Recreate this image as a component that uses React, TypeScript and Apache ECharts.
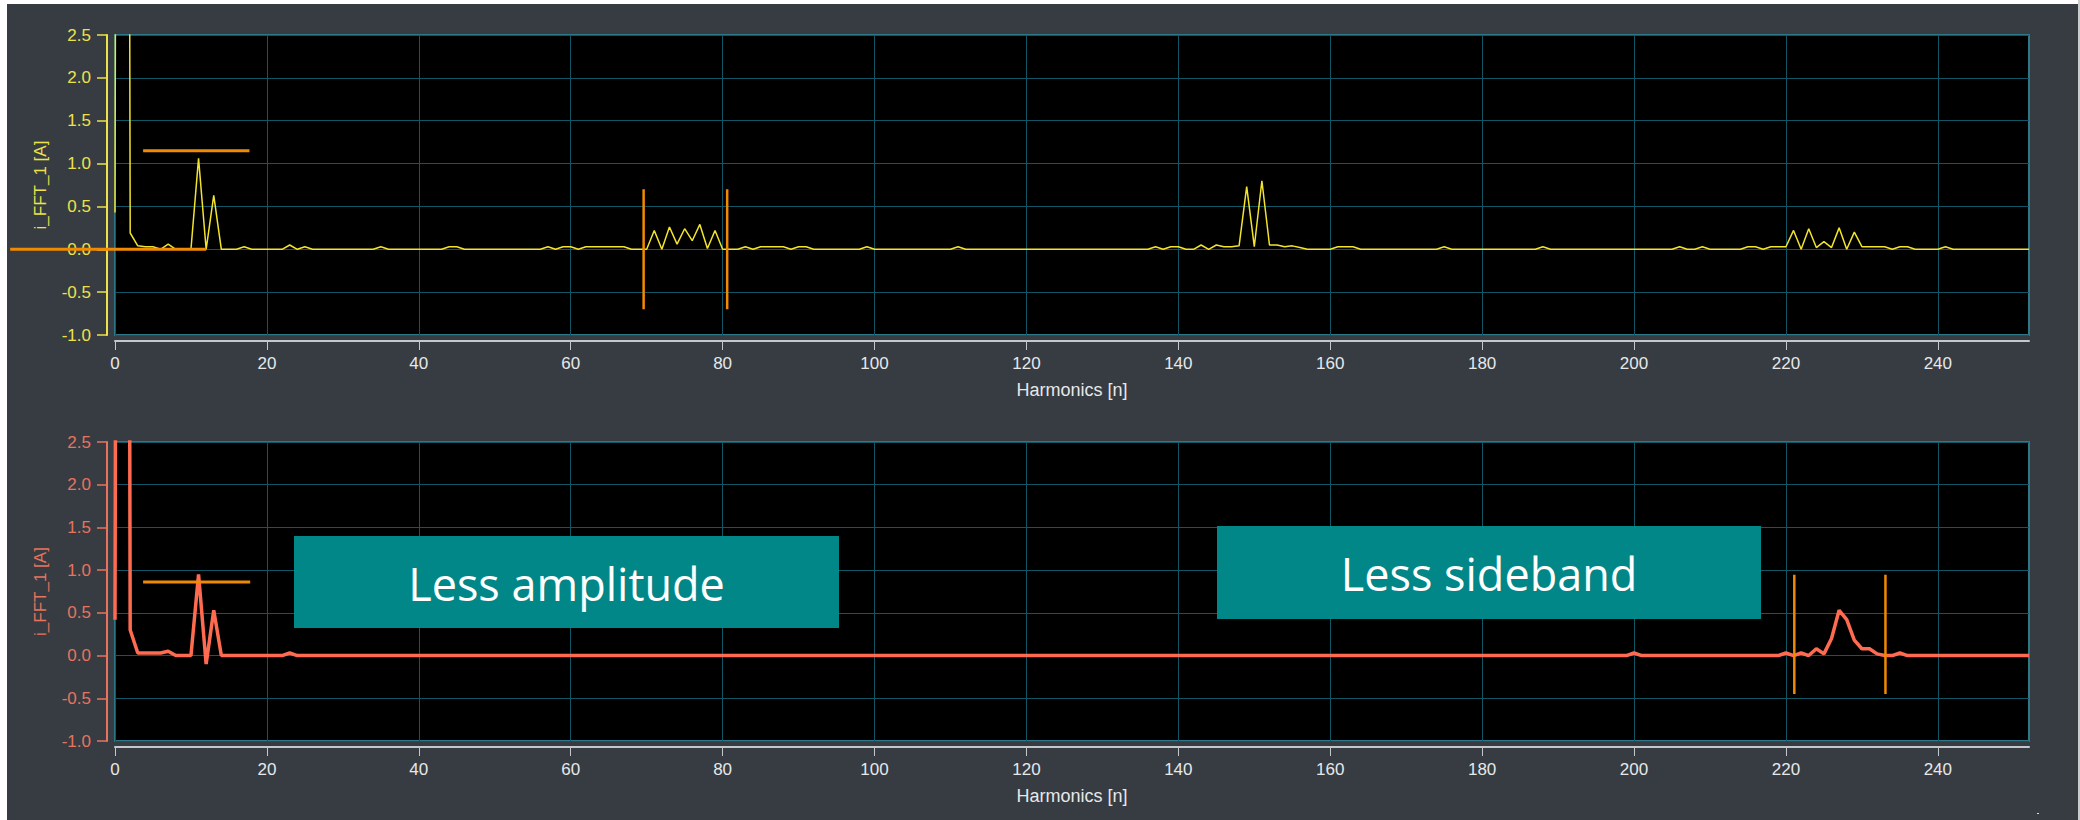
import React, { useEffect, useRef } from "react";
import * as echarts from "echarts";

// Harmonic order n = index (0 .. 252)
const topValues = [
  0.43, 40, 0.19, 0.04, 0.03, 0.03, 0, 0.06, 0, 0,
  0, 1.06, 0, 0.63, 0, 0, 0, 0.03, 0, 0,
  0, 0, 0, 0.05, 0, 0.03, 0, 0, 0, 0,
  0, 0, 0, 0, 0, 0.03, 0, 0, 0, 0,
  0, 0, 0, 0, 0.03, 0.03, 0, 0, 0, 0,
  0, 0, 0, 0, 0, 0, 0, 0.03, 0, 0.03,
  0.03, 0, 0.03, 0.03, 0.03, 0.03, 0.03, 0.03, 0, 0,
  0, 0.22, 0, 0.26, 0.06, 0.24, 0.1, 0.29, 0.01, 0.22,
  0, 0, 0, 0.03, 0, 0.03, 0.03, 0.03, 0.03, 0,
  0.03, 0.03, 0, 0, 0, 0, 0, 0, 0, 0.03,
  0, 0, 0, 0, 0, 0, 0, 0, 0, 0,
  0, 0.03, 0, 0, 0, 0, 0, 0, 0, 0,
  0, 0, 0, 0, 0, 0, 0, 0, 0, 0,
  0, 0, 0, 0, 0, 0, 0, 0.03, 0, 0.03,
  0.03, 0, 0, 0.05, 0, 0.05, 0.03, 0.03, 0.04, 0.73,
  0.03, 0.8, 0.05, 0.05, 0.03, 0.04, 0.02, 0, 0, 0,
  0, 0.03, 0.03, 0.03, 0, 0, 0, 0, 0, 0,
  0, 0, 0, 0, 0, 0.03, 0, 0, 0, 0,
  0, 0, 0, 0, 0, 0, 0, 0, 0.03, 0,
  0, 0, 0, 0, 0, 0, 0, 0, 0, 0,
  0, 0, 0, 0, 0, 0, 0.03, 0, 0, 0.03,
  0, 0, 0, 0, 0, 0.03, 0.03, 0, 0.03, 0.03,
  0.03, 0.22, 0, 0.24, 0.02, 0.09, 0.02, 0.25, 0, 0.2,
  0.03, 0.03, 0.03, 0.03, 0, 0.03, 0.03, 0, 0, 0,
  0, 0.03, 0, 0, 0, 0, 0, 0, 0, 0,
  0, 0, 0,
];

const bottomValues = [
  0.42, 40, 0.3, 0.03, 0.03, 0.03, 0.03, 0.05, 0, 0,
  0, 0.95, -0.1, 0.53, 0, 0, 0, 0, 0, 0,
  0, 0, 0, 0.03, 0, 0, 0, 0, 0, 0,
  0, 0, 0, 0, 0, 0, 0, 0, 0, 0,
  0, 0, 0, 0, 0, 0, 0, 0, 0, 0,
  0, 0, 0, 0, 0, 0, 0, 0, 0, 0,
  0, 0, 0, 0, 0, 0, 0, 0, 0, 0,
  0, 0, 0, 0, 0, 0, 0, 0, 0, 0,
  0, 0, 0, 0, 0, 0, 0, 0, 0, 0,
  0, 0, 0, 0, 0, 0, 0, 0, 0, 0,
  0, 0, 0, 0, 0, 0, 0, 0, 0, 0,
  0, 0, 0, 0, 0, 0, 0, 0, 0, 0,
  0, 0, 0, 0, 0, 0, 0, 0, 0, 0,
  0, 0, 0, 0, 0, 0, 0, 0, 0, 0,
  0, 0, 0, 0, 0, 0, 0, 0, 0, 0,
  0, 0, 0, 0, 0, 0, 0, 0, 0, 0,
  0, 0, 0, 0, 0, 0, 0, 0, 0, 0,
  0, 0, 0, 0, 0, 0, 0, 0, 0, 0,
  0, 0, 0, 0, 0, 0, 0, 0, 0, 0,
  0, 0, 0, 0, 0, 0, 0, 0, 0, 0,
  0.03, 0, 0, 0, 0, 0, 0, 0, 0, 0,
  0, 0, 0, 0, 0, 0, 0, 0, 0, 0,
  0.03, 0, 0.03, 0, 0.08, 0.02, 0.2, 0.53, 0.42, 0.18,
  0.08, 0.08, 0.02, 0, 0, 0.03, 0, 0, 0, 0,
  0, 0, 0, 0, 0, 0, 0, 0, 0, 0,
  0, 0, 0,
];

const xTickValues = [0, 20, 40, 60, 80, 100, 120, 140, 160, 180, 200, 220, 240];
const xMax = 252;
const yMin = -1;
const yMax = 2.5;
const yStep = 0.5;

const xTitle = "Harmonics [n]";
const yTitle = "i_FFT_1 [A]";

// cursor markers (data units)
const topLevelX = [3.7, 17.7];
const topLevelY = 1.15;
const topZeroX = [-13.8, 12];
const topBandX = [69.6, 80.6];
const topBandY = [-0.7, 0.7];
const bottomLevelX = [3.7, 17.8];
const bottomLevelY = 0.86;
const bottomBandX = [221.1, 233.1];
const bottomBandY = [-0.45, 0.945];

const notes = ["Less amplitude", "Less sideband"];

const YELLOW = "#ede24a";
const YELLOW_LINE = "#f2e42c";
const CORAL = "#e8735e";
const CORAL_LINE = "#ff6b50";
const ORANGE = "#f08a00";
const GRID_LINE = "#0f5767";
const BORDER = "#2c7888";
const AXIS_GRAY = "#c4c8cc";
const TXT = "#e6e8ea";
const BG = "#363c42";
const BOX = "#028788";

function xAxisCfg(gridIndex: number) {
  return {
    type: "value",
    gridIndex,
    min: 0,
    max: xMax,
    interval: 20,
    position: "bottom",
    offset: 6,
    axisLine: { show: true, onZero: false, lineStyle: { color: AXIS_GRAY, width: 2 } },
    axisTick: { show: true, length: 9, customValues: xTickValues, lineStyle: { color: AXIS_GRAY, width: 1 } },
    axisLabel: {
      color: TXT,
      fontSize: 17,
      margin: 14,
      customValues: xTickValues,
      fontFamily: "Liberation Sans",
    },
    splitLine: { show: true, lineStyle: { color: GRID_LINE, width: 1 } },
    name: xTitle,
    nameLocation: "middle",
    nameGap: 40,
    nameTextStyle: { color: TXT, fontSize: 18, fontFamily: "Liberation Sans" },
  };
}

function yAxisCfg(gridIndex: number, color: string) {
  return {
    type: "value",
    gridIndex,
    min: yMin,
    max: yMax,
    interval: yStep,
    position: "left",
    offset: 8,
    axisLine: { show: true, onZero: false, lineStyle: { color, width: 2 } },
    axisTick: { show: true, length: 10, lineStyle: { color, width: 1.5 } },
    axisLabel: {
      color,
      fontSize: 17,
      margin: 16,
      fontFamily: "Liberation Sans",
      formatter: (v: number) => v.toFixed(1),
    },
    splitLine: { show: true, lineStyle: { color: GRID_LINE, width: 1 } },
    name: yTitle,
    nameLocation: "middle",
    nameGap: 58,
    nameTextStyle: { color, fontSize: 17, fontFamily: "Liberation Sans" },
  };
}

function segment(idx: number, pts: number[][], width: number) {
  return {
    type: "line",
    xAxisIndex: idx,
    yAxisIndex: idx,
    data: pts,
    showSymbol: false,
    symbol: "none",
    z: 10,
    silent: true,
    lineStyle: { color: ORANGE, width },
  };
}

export default function App() {
  const ref = useRef<HTMLDivElement>(null);

  useEffect(() => {
    document.body.style.margin = "0";
    if (!ref.current) return;
    const chart = echarts.init(ref.current, undefined, { renderer: "svg" });

    const option = {
      animation: false,
      backgroundColor: "#ffffff",
      textStyle: { fontFamily: "Liberation Sans" },
      grid: [
        { left: 115, top: 35, width: 1914, height: 300, show: true, backgroundColor: "#000000", borderColor: BORDER, borderWidth: 2 },
        { left: 115, top: 442, width: 1914, height: 299, show: true, backgroundColor: "#000000", borderColor: BORDER, borderWidth: 2 },
      ],
      xAxis: [xAxisCfg(0), xAxisCfg(1)],
      yAxis: [yAxisCfg(0, YELLOW), yAxisCfg(1, CORAL)],
      graphic: {
        elements: [
          { id: "bg", type: "rect", shape: { x: 7, y: 4, width: 2071, height: 816 }, style: { fill: BG }, z: -100, silent: true },
          { id: "edge", type: "rect", shape: { x: 2078, y: 0, width: 2, height: 820 }, style: { fill: "#c8cccc" }, z: -100, silent: true },
          { id: "dot", type: "rect", shape: { x: 2037, y: 813, width: 2, height: 1 }, style: { fill: "#dddddd" }, z: -99, silent: true },
          { id: "box1", type: "rect", shape: { x: 294, y: 536, width: 545, height: 92 }, style: { fill: BOX }, z: 100 },
          {
            id: "note1",
            type: "text",
            x: 566.5,
            y: 583,
            z: 101,
            style: {
              text: notes[0],
              fill: "#ffffff",
              font: "45px 'Open Sans'",
              align: "center",
              verticalAlign: "middle",
            },
          },
          { id: "box2", type: "rect", shape: { x: 1217, y: 526, width: 544, height: 93 }, style: { fill: BOX }, z: 100 },
          {
            id: "note2",
            type: "text",
            x: 1489,
            y: 573,
            z: 101,
            style: {
              text: notes[1],
              fill: "#ffffff",
              font: "45px 'Open Sans'",
              align: "center",
              verticalAlign: "middle",
            },
          },
        ],
      },
      series: [
        {
          type: "line",
          xAxisIndex: 0,
          yAxisIndex: 0,
          data: topValues.map((v, i) => [i, v]),
          showSymbol: false,
          symbol: "none",
          z: 5,
          lineStyle: { color: YELLOW_LINE, width: 1.5 },
        },
        {
          type: "line",
          xAxisIndex: 1,
          yAxisIndex: 1,
          data: bottomValues.map((v, i) => [i, v]),
          showSymbol: false,
          symbol: "none",
          z: 5,
          lineStyle: { color: CORAL_LINE, width: 3.5 },
        },
        segment(0, [[topLevelX[0], topLevelY], [topLevelX[1], topLevelY]], 3),
        segment(0, [[topBandX[0], topBandY[0]], [topBandX[0], topBandY[1]]], 2.5),
        segment(0, [[topBandX[1], topBandY[0]], [topBandX[1], topBandY[1]]], 2.5),
        segment(1, [[bottomLevelX[0], bottomLevelY], [bottomLevelX[1], bottomLevelY]], 3),
        segment(1, [[bottomBandX[0], bottomBandY[0]], [bottomBandX[0], bottomBandY[1]]], 2.5),
        segment(1, [[bottomBandX[1], bottomBandY[0]], [bottomBandX[1], bottomBandY[1]]], 2.5),
      ],
    };

    chart.setOption(option as any);

    // zero-level cursor of the upper chart reaches out past the axis:
    // place it through the library's own scale
    const p0 = chart.convertToPixel({ xAxisIndex: 0, yAxisIndex: 0 } as any, [topZeroX[0], 0]) as number[];
    const p1 = chart.convertToPixel({ xAxisIndex: 0, yAxisIndex: 0 } as any, [topZeroX[1], 0]) as number[];
    chart.setOption({
      graphic: {
        elements: [
          {
            id: "zeroCursor",
            type: "line",
            z: 50,
            silent: true,
            shape: { x1: p0[0], y1: p0[1], x2: p1[0], y2: p1[1] },
            style: { stroke: ORANGE, lineWidth: 3 },
          },
        ],
      },
    } as any);

    return () => chart.dispose();
  }, []);

  return <div ref={ref} style={{ width: 2080, height: 820 }} />;
}
